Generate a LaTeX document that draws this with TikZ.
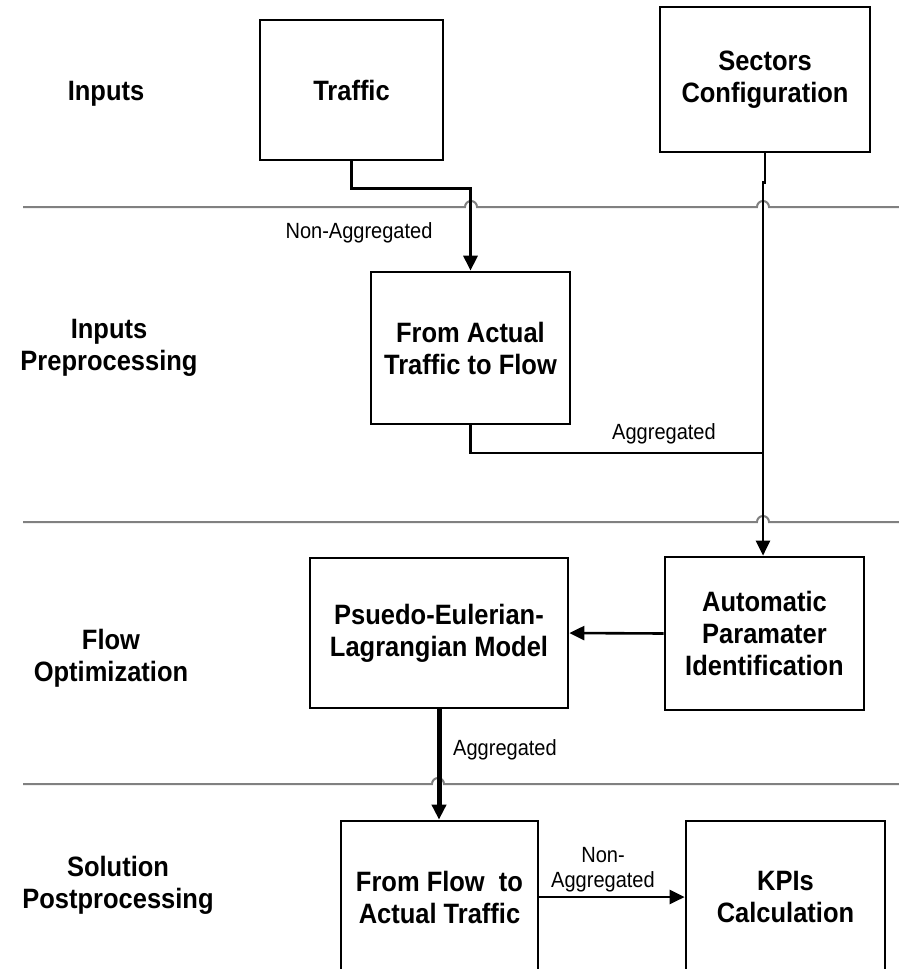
\documentclass[tikz,border=0pt]{standalone}
\usepackage{fontspec}
\setmainfont[FakeStretch=0.91]{Liberation Sans}
\usetikzlibrary{arrows.meta}

\begin{document}
\begin{tikzpicture}[x=1pt,y=-1pt,
  box/.style={draw,line width=2.7pt,align=center,font=\fontsize{28}{32}\selectfont\bfseries},
  lane/.style={align=center,font=\fontsize{28}{32}\selectfont\bfseries},
  tag/.style={align=center,font=\fontsize{22}{25}\selectfont},
  conn/.style={line width=2.6pt},
  arr/.style={conn,-{Triangle[length=15pt,width=14pt]}},
  sep/.style={line width=2pt,color=black!50}]
		%%%%% START %%%%%
		\useasboundingbox (0,0) rectangle (899,969);
		\clip (0,0) rectangle (899,969);

		% lanes
		\draw[sep] (23,207) -- (465,207) arc (180:360:6) -- (757,207) arc (180:360:6) -- (899,207);
		\draw[sep] (23,522) -- (757,522) arc (180:360:6) -- (899,522);
		\draw[sep] (23,784) -- (432,784) arc (180:360:6) -- (899,784);

		\node[lane] (inputs) at (106,94) {Inputs};
		\node[lane] (prep) at (109,348) {Inputs\\Preprocessing};
		\node[lane] (opt) at (111,658) {Flow\\Optimization};
		\node[lane] (post) at (118,885) {Solution\\Postprocessing};

		% boxes
		\node[box,minimum width=183pt,minimum height=140pt] (traffic) at (351.5,90) {Traffic};
		\node[box,minimum width=210pt,minimum height=145pt] (sectors) at (765,79.5) {Sectors\\Configuration};
		\node[box,minimum width=199pt,minimum height=152pt] (actual) at (470.5,348) {From Actual\\Traffic to Flow};
		\node[box,minimum width=258pt,minimum height=150pt] (psuedo) at (439,633) {Psuedo-Eulerian-\\Lagrangian Model};
		\node[box,minimum width=199pt,minimum height=153pt] (auto) at (764.5,633.5) {Automatic\\Paramater\\Identification};
		\node[box,minimum width=197pt,minimum height=152pt] (fromflow) at (439.5,897) {From Flow\ \ to\\Actual Traffic};
		\node[box,minimum width=199pt,minimum height=152pt] (kpis) at (785.5,897) {KPIs\\Calculation};

		% connectors
		\coordinate (join) at (763,453);
		\draw[arr,line width=3pt] (traffic.south) -- ++(0,27) -| (actual.north);
		\draw[conn] (sectors.south) -- ++(0,29) -| (join);
		\draw[conn] (actual.south) |- (join);
		\draw[arr] (join) -- (join |- auto.north);
		\draw[arr] (auto.west) -- (psuedo.east);
		\draw[arr,line width=5pt] (psuedo.south) -- (psuedo.south |- fromflow.north);
		\draw[arr] (fromflow.east) -- (kpis.west);

		\node[tag] (nonagg) at (359,233) {Non-Aggregated};
		\node[tag] (agg) at (664,434) {Aggregated};
		\node[tag] (agg2) at (505,750) {Aggregated};
		\node[tag] (nonagg2) at (603,870) {Non-\\Aggregated};
		%%%%% END %%%%%
\end{tikzpicture}
\end{document}
